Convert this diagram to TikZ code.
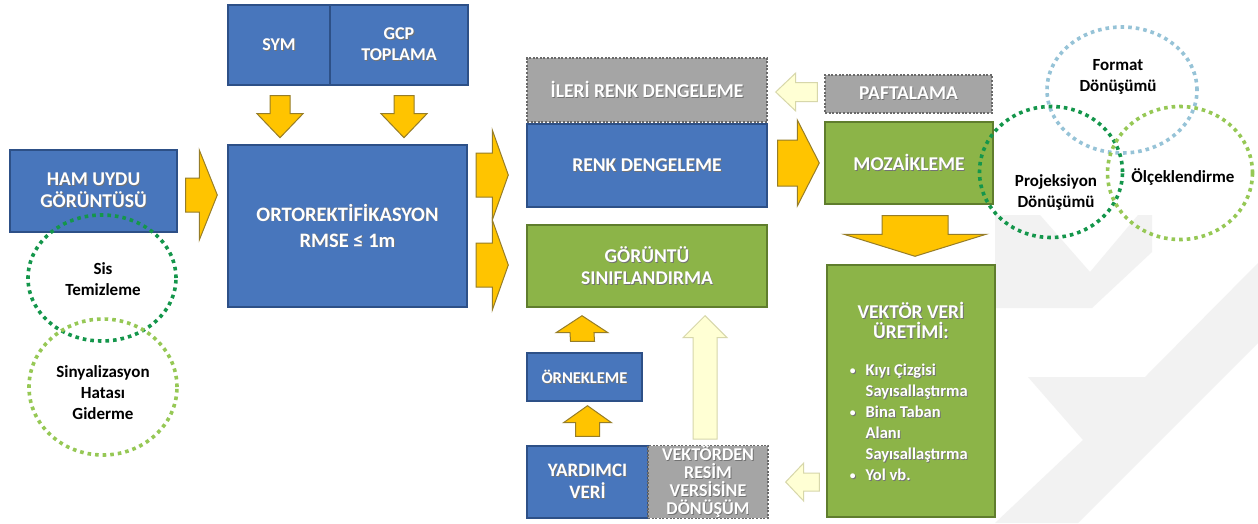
\documentclass[tikz,border=0pt]{standalone}
\usepackage{fontspec}
\setmainfont{Carlito}
\usetikzlibrary{shapes.geometric,calc}
\definecolor{bxblue}{RGB}{72,118,188}
\definecolor{bxblueD}{RGB}{45,80,135}
\definecolor{bxgreen}{RGB}{140,180,72}
\definecolor{bxgreenD}{RGB}{95,125,45}
\definecolor{bxgray}{RGB}{165,165,165}
\definecolor{bxgrayD}{RGB}{105,105,105}
\definecolor{arrY}{RGB}{255,196,0}
\definecolor{arrYD}{RGB}{150,125,40}
\definecolor{arrL}{RGB}{255,255,212}
\definecolor{arrLD}{RGB}{215,215,170}
\definecolor{cDk}{RGB}{20,150,75}
\definecolor{cLt}{RGB}{150,200,85}
\definecolor{cBl}{RGB}{150,195,215}
\definecolor{wm}{RGB}{242,242,242}
\newcommand\shtxt[1]{\leavevmode\rlap{\kern0.9pt\raisebox{-0.9pt}{\textcolor{black!55}{#1}}}#1}
\newcommand\bul{\llap{\shtxt{\raisebox{1pt}{\scalebox{0.7}{•}}}\hspace{10pt}}}
% block arrow: style, tail, tip, ux, uy, shaft half, head half, head length
\newcommand\barrow[8]{%
 \draw[#1] ($#2+({-(#5)*#6},{(#4)*#6})$)
  -- ($#3+({-(#4)*#8-(#5)*#6},{-(#5)*#8+(#4)*#6})$)
  -- ($#3+({-(#4)*#8-(#5)*#7},{-(#5)*#8+(#4)*#7})$)
  -- #3
  -- ($#3+({-(#4)*#8+(#5)*#7},{-(#5)*#8-(#4)*#7})$)
  -- ($#3+({-(#4)*#8+(#5)*#6},{-(#5)*#8-(#4)*#6})$)
  -- ($#2+({(#5)*#6},{-(#4)*#6})$) -- cycle;}
\begin{document}
\begin{tikzpicture}[x=1pt,y=-1pt,
  sz/.style 2 args={minimum width=#1pt, minimum height=#2pt},
  box/.style={rectangle, line width=1.4pt, inner sep=0pt, align=center, text=white,
    font=\bfseries\fontsize{19.5}{22}\selectfont},
  bluebox/.style={box, fill=bxblue, draw=bxblueD},
  greenbox/.style={box, fill=bxgreen, draw=bxgreenD},
  graybox/.style={box, fill=bxgray, draw=bxgrayD, dash pattern=on 2pt off 1.6pt},
  yarrow/.style={fill=arrY, draw=arrYD, line width=1pt, line join=miter},
  larrow/.style={fill=arrL, draw=arrLD, line width=1pt, line join=miter},
  ring/.style={ellipse, draw=#1, line width=3.6pt, dash pattern=on 3.6pt off 4pt, inner sep=0pt},
  ctext/.style={align=center, text=black, font=\bfseries\fontsize{17}{21}\selectfont},
]
\useasboundingbox (0,0) rectangle (1258,523);
\fill[white] (0,0) rectangle (1258,523);
% faint watermark
\fill[wm] (995,215) -- (1040,215) -- (1090,272) -- (1138,215) -- (1152,215) -- (1152,252)
  -- (1092,308) -- (995,308) -- cycle;
\fill[wm] (1258,263) -- (1258,343) -- (1078,523) -- (995,523) -- (1083,440) -- (1028,377)
  -- (1145,377) -- cycle;

% boxes
\node[bluebox, sz={167}{82}] (ham) at (93.5,191) {\shtxt{HAM UYDU}\\\shtxt{GÖRÜNTÜSÜ}};
\node[bluebox, sz={102}{80}, font=\bfseries\fontsize{18}{21}\selectfont] (sym) at (279,45) {\shtxt{SYM}};
\node[bluebox, sz={138}{80}, font=\bfseries\fontsize{18}{21}\selectfont] (gcp) at (399,45) {\shtxt{GCP}\\\shtxt{TOPLAMA}};
\node[bluebox, sz={239}{162}, font=\bfseries\fontsize{20.5}{26}\selectfont] (orto) at (347.5,226) {\shtxt{ORTOREKTİFİKASYON}\\\shtxt{RMSE ≤ 1m}};
\node[graybox, sz={240}{64}] (ileri) at (647,90) {\shtxt{İLERİ RENK DENGELEME}};
\node[bluebox, sz={240}{83}] (renk) at (647,165.5) {\shtxt{RENK DENGELEME}};
\node[greenbox, sz={240}{82}] (gor) at (647,266) {\shtxt{GÖRÜNTÜ}\\\shtxt{SINIFLANDIRMA}};
\node[bluebox, sz={115}{48}, font=\bfseries\fontsize{16.5}{19}\selectfont] (ornek) at (584.5,377) {\shtxt{ÖRNEKLEME}};
\node[bluebox, sz={121}{72}, font=\bfseries\fontsize{19}{22}\selectfont] (yard) at (587.5,482) {\shtxt{YARDIMCI}\\\shtxt{VERİ}};
\node[graybox, sz={120}{72}, font=\bfseries\fontsize{18}{18}\selectfont] (vekres) at (708,482) {\shtxt{VEKTÖRDEN}\\\shtxt{RESİM}\\\shtxt{VERSİSİNE}\\\shtxt{DÖNÜŞÜM}};
\node[graybox, sz={167}{38}] (pafta) at (908.5,94) {\shtxt{PAFTALAMA}};
\node[greenbox, sz={168}{82}] (moz) at (909,163) {\shtxt{MOZAİKLEME}};
\node[greenbox, sz={168}{252}] (vek) at (911,391) {};
\node[box, font=\bfseries\fontsize{19.5}{20}\selectfont] (vektitle) at (911,321) {\shtxt{VEKTÖR VERİ}\\\shtxt{ÜRETİMİ:}};
\node[box, align=left, anchor=north west, font=\bfseries\fontsize{16.5}{21}\selectfont] (vekbul) at (865,363)
  {\bul\shtxt{Kıyı Çizgisi}\\\shtxt{Sayısallaştırma}\\
   \bul\shtxt{Bina Taban}\\\shtxt{Alanı}\\\shtxt{Sayısallaştırma}\\
   \bul\shtxt{Yol vb.}};

% arrows
\coordinate (a1t) at ($(ham.east)+(8,4)$);   \coordinate (a1h) at ($(orto.west)+(-10,-31)$);
\barrow{yarrow}{(a1t)}{(a1h)}{1}{0}{17}{45}{18}
\coordinate (a2t) at ($(sym.south)+(1,10)$);  \coordinate (a2h) at ($(sym.south)+(1,52)$);
\barrow{yarrow}{(a2t)}{(a2h)}{0}{1}{10}{23}{24}
\coordinate (a3t) at ($(gcp.south)+(5,10)$);  \coordinate (a3h) at ($(gcp.south)+(5,52)$);
\barrow{yarrow}{(a3t)}{(a3h)}{0}{1}{10}{23}{24}
\coordinate (a4t) at (476,175); \coordinate (a4h) at ($(renk.west)+(-18,9.5)$);
\barrow{yarrow}{(a4t)}{(a4h)}{1}{0}{22}{45}{16}
\coordinate (a5t) at (476,265); \coordinate (a5h) at ($(gor.west)+(-18,-1)$);
\barrow{yarrow}{(a5t)}{(a5h)}{1}{0}{22}{45}{16}
\coordinate (a6t) at ($(ornek.north)+(-2,-11)$); \coordinate (a6h) at ($(gor.south)+(-65,8)$);
\barrow{yarrow}{(a6t)}{(a6h)}{0}{-1}{12}{26}{17}
\coordinate (a7t) at ($(yard.north)+(0,-9)$); \coordinate (a7h) at ($(ornek.south)+(3,4)$);
\barrow{yarrow}{(a7t)}{(a7h)}{0}{-1}{12}{24}{17}
\coordinate (a8t) at ($(vekres.north)+(-3,-6)$); \coordinate (a8h) at ($(gor.south)+(58,8)$);
\barrow{larrow}{(a8t)}{(a8h)}{0}{-1}{12}{22}{22}
\coordinate (a9t) at ($(pafta.west)+(-7,-2)$); \coordinate (a9h) at ($(ileri.east)+(8,2)$);
\barrow{larrow}{(a9t)}{(a9h)}{-1}{0}{9.5}{19}{20}
\coordinate (a10t) at ($(renk.east)+(10,-2.5)$); \coordinate (a10h) at ($(moz.west)+(-5,0)$);
\barrow{yarrow}{(a10t)}{(a10h)}{1}{0}{23}{43}{22}
\coordinate (a11t) at ($(moz.south)+(6,11)$); \coordinate (a11h) at ($(vek.north)+(4,-8)$);
\barrow{yarrow}{(a11t)}{(a11h)}{0}{1}{33}{71}{22}
\coordinate (a12t) at ($(vek.west)+(-7,91)$); \coordinate (a12h) at ($(vekres.east)+(17,0)$);
\barrow{larrow}{(a12t)}{(a12h)}{-1}{0}{9}{19}{18}

% dotted rings
\node[ring=cDk, sz={148}{126}] (sis) at (102,278) {};
\node[ring=cLt, sz={148}{136}] (sin) at (103,387) {};
\node[ring=cBl, sz={150}{126}] (fmt) at (1122,90) {};
\node[ring=cDk, sz={143}{131}] (proj) at (1051,172) {};
\node[ring=cLt, sz={145}{133}] (olc) at (1180,173) {};
\node[ctext] (sist) at (103,279) {Sis\\Temizleme};
\node[ctext] (sint) at (103,393) {Sinyalizasyon\\Hatası\\Giderme};
\node[ctext] (fmtt) at (1118,77) {Format\\Dönüşümü};
\node[ctext] (projt) at (1056,192) {Projeksiyon\\Dönüşümü};
\node[ctext] (olct) at (1183,177) {Ölçeklendirme};
\end{tikzpicture}
\end{document}
